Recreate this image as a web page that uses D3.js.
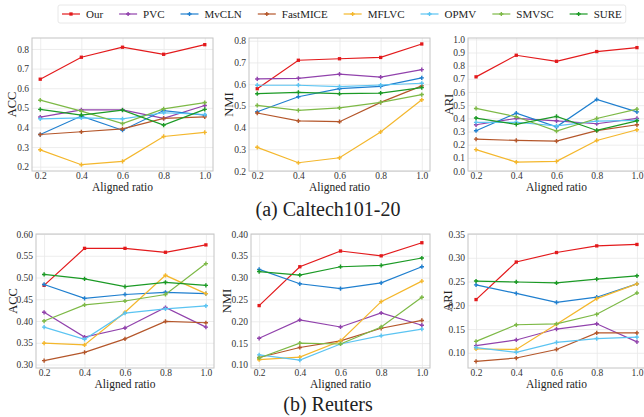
<!DOCTYPE html>
<html>
<head>
<meta charset="utf-8">
<script src="https://cdn.jsdelivr.net/npm/d3@7"></script>
<style>
  body { margin: 0; background: #fff; }
  .grid line { stroke: #e8e8e8; stroke-width: 0.8; }
  .grid .domain { display: none; }
  .ax .domain { display: none; }
</style>
</head>
<body>
<div id="chart"></div>
<script>
var serif = "'Liberation Serif', 'Times New Roman', Times, 'DejaVu Serif', serif";

// methods and their colours
var methods = ["Our", "PVC", "MvCLN", "FastMICE", "MFLVC", "OPMV", "SMVSC", "SURE"];
var colors = ["#e31a1c", "#9142ac", "#1f7fcf", "#b4562a", "#f4b72c", "#5bc4f2", "#7db946", "#1b9a25"];

var ratios = [0.2, 0.4, 0.6, 0.8, 1.0];
var xTicks = [0.2, 0.4, 0.6, 0.8, 1.0];

// tick labels per panel
var calAccTicks = [0.2, 0.3, 0.4, 0.5, 0.6, 0.7, 0.8];
var calNmiTicks = [0.2, 0.3, 0.4, 0.5, 0.6, 0.7, 0.8];
var calAriTicks = [0.0, 0.1, 0.2, 0.3, 0.4, 0.5, 0.6, 0.7, 0.8, 0.9, 1.0];
var reuAccTicks = [0.30, 0.35, 0.40, 0.45, 0.50, 0.55, 0.60];
var reuNmiTicks = [0.10, 0.15, 0.20, 0.25, 0.30, 0.35, 0.40];
var reuAriTicks = [0.10, 0.15, 0.20, 0.25, 0.30, 0.35];

// series values, one row per method (same order as methods)
var calACC = [
  [0.646, 0.758, 0.809, 0.773, 0.822],
  [0.453, 0.490, 0.490, 0.446, 0.512],
  [0.364, 0.458, 0.386, 0.486, 0.463],
  [0.364, 0.378, 0.393, 0.446, 0.454],
  [0.286, 0.210, 0.227, 0.354, 0.375],
  [0.444, 0.449, 0.444, 0.475, 0.466],
  [0.539, 0.483, 0.420, 0.495, 0.527],
  [0.492, 0.463, 0.488, 0.412, 0.492]
];
var calNMI = [
  [0.579, 0.710, 0.717, 0.723, 0.785],
  [0.624, 0.627, 0.646, 0.632, 0.667],
  [0.473, 0.542, 0.579, 0.590, 0.629],
  [0.467, 0.431, 0.427, 0.516, 0.592],
  [0.309, 0.238, 0.261, 0.380, 0.528],
  [0.595, 0.595, 0.589, 0.596, 0.604],
  [0.502, 0.479, 0.491, 0.516, 0.552],
  [0.556, 0.562, 0.556, 0.559, 0.584]
];
var calARI = [
  [0.715, 0.879, 0.833, 0.907, 0.937],
  [0.351, 0.399, 0.381, 0.359, 0.399],
  [0.306, 0.439, 0.336, 0.543, 0.449],
  [0.242, 0.232, 0.227, 0.306, 0.351],
  [0.162, 0.068, 0.073, 0.232, 0.313],
  [0.369, 0.370, 0.343, 0.378, 0.385],
  [0.475, 0.412, 0.303, 0.399, 0.470],
  [0.402, 0.354, 0.414, 0.308, 0.381]
];
var reuACC = [
  [0.482, 0.567, 0.567, 0.558, 0.575],
  [0.420, 0.363, 0.384, 0.431, 0.386],
  [0.484, 0.452, 0.461, 0.466, 0.463],
  [0.309, 0.328, 0.359, 0.399, 0.396],
  [0.349, 0.345, 0.420, 0.505, 0.463],
  [0.386, 0.358, 0.418, 0.428, 0.435],
  [0.400, 0.437, 0.446, 0.461, 0.532],
  [0.507, 0.497, 0.479, 0.489, 0.482]
];
var reuNMI = [
  [0.236, 0.325, 0.361, 0.350, 0.380],
  [0.161, 0.203, 0.187, 0.219, 0.191],
  [0.319, 0.286, 0.275, 0.288, 0.325],
  [0.117, 0.140, 0.155, 0.184, 0.202],
  [0.112, 0.118, 0.155, 0.245, 0.292],
  [0.123, 0.111, 0.148, 0.167, 0.182],
  [0.116, 0.150, 0.148, 0.187, 0.255],
  [0.314, 0.306, 0.325, 0.328, 0.345]
];
var reuARI = [
  [0.212, 0.291, 0.311, 0.325, 0.328],
  [0.115, 0.127, 0.150, 0.161, 0.123],
  [0.243, 0.225, 0.206, 0.217, 0.245],
  [0.082, 0.089, 0.107, 0.142, 0.142],
  [0.108, 0.107, 0.160, 0.214, 0.245],
  [0.111, 0.101, 0.122, 0.130, 0.133],
  [0.124, 0.159, 0.161, 0.181, 0.226],
  [0.251, 0.249, 0.247, 0.255, 0.262]
];

// panel layout: box = [left, top, right, bottom]
var panels = [
  {data: calACC, label: "ACC", ticks: calAccTicks, fmt: ".1f", box: [32, 38, 213, 171], dom: [0.178, 0.856], lx: 12},
  {data: calNMI, label: "NMI", ticks: calNmiTicks, fmt: ".1f", box: [249, 38, 430, 171], dom: [0.2, 0.8125], lx: 229},
  {data: calARI, label: "ARI", ticks: calAriTicks, fmt: ".1f", box: [468, 38, 645, 171], dom: [0.0, 1.01], lx: 449},
  {data: reuACC, label: "ACC", ticks: reuAccTicks, fmt: ".2f", box: [36, 234, 214, 368], dom: [0.292, 0.60], lx: 13},
  {data: reuNMI, label: "NMI", ticks: reuNmiTicks, fmt: ".2f", box: [251, 234, 430, 368], dom: [0.093, 0.40], lx: 227},
  {data: reuARI, label: "ARI", ticks: reuAriTicks, fmt: ".2f", box: [468, 234, 645, 368], dom: [0.068, 0.35], lx: 448}
];

var svg = d3.select("#chart")
  .append("svg")
  .attr("width", 644)
  .attr("height", 417)
  .attr("font-family", serif);

panels.forEach(function(p) {
  var left = p.box[0], top = p.box[1], right = p.box[2], bottom = p.box[3];

  var x = d3.scaleLinear().domain([0.16, 1.04]).range([left, right]);
  var y = d3.scaleLinear().domain(p.dom).range([bottom, top]);

  var g = svg.append("g");

  // grid lines
  g.append("g").attr("class", "grid")
    .attr("transform", "translate(0," + bottom + ")")
    .call(d3.axisBottom(x).tickValues(xTicks).tickSize(-(bottom - top)).tickFormat(""));
  g.append("g").attr("class", "grid")
    .attr("transform", "translate(" + left + ",0)")
    .call(d3.axisLeft(y).tickValues(p.ticks).tickSize(-(right - left)).tickFormat(""));

  // frame
  g.append("rect")
    .attr("x", left).attr("y", top)
    .attr("width", right - left).attr("height", bottom - top)
    .attr("fill", "none").attr("stroke", "#c4c4c4").attr("stroke-width", 1);

  // tick labels
  g.append("g").attr("class", "ax")
    .attr("transform", "translate(0," + bottom + ")")
    .call(d3.axisBottom(x).tickValues(xTicks).tickSize(0).tickPadding(1).tickFormat(d3.format(".1f")))
    .attr("font-family", serif).attr("font-size", 9.5)
    .selectAll("text").attr("fill", "#333");
  g.append("g").attr("class", "ax")
    .attr("transform", "translate(" + left + ",0)")
    .call(d3.axisLeft(y).tickValues(p.ticks).tickSize(0).tickPadding(3).tickFormat(d3.format(p.fmt)))
    .attr("font-family", serif).attr("font-size", 9.5)
    .selectAll("text").attr("fill", "#333");

  // axis titles
  g.append("text")
    .attr("x", (left + right) / 2)
    .attr("y", bottom + 20)
    .attr("text-anchor", "middle")
    .attr("font-size", 11.5)
    .attr("fill", "#222")
    .text("Aligned ratio");

  g.append("text")
    .attr("transform", "translate(" + p.lx + "," + ((top + bottom) / 2) + ")rotate(-90)")
    .attr("dy", "0.35em")
    .attr("text-anchor", "middle")
    .attr("font-size", 12.5)
    .attr("fill", "#222")
    .text(p.label);

  // series
  var line = d3.line()
    .x(function(d, i) { return x(ratios[i]); })
    .y(function(d) { return y(d); });

  p.data.forEach(function(vals, k) {
    g.append("path")
      .datum(vals)
      .attr("d", line)
      .attr("fill", "none")
      .attr("stroke", colors[k])
      .attr("stroke-width", 1.2);

    var sym = d3.symbol().type(k === 0 ? d3.symbolSquare : d3.symbolCross).size(k === 0 ? 11 : 10);
    g.selectAll(null)
      .data(vals)
      .enter()
      .append("path")
      .attr("d", sym)
      .attr("transform", function(d, i) { return "translate(" + x(ratios[i]) + "," + y(d) + ")"; })
      .attr("fill", colors[k]);
  });
});

// captions
svg.append("text")
  .attr("x", 328).attr("y", 216)
  .attr("text-anchor", "middle").attr("font-size", 20).attr("fill", "#222")
  .text("(a) Caltech101-20");
svg.append("text")
  .attr("x", 328).attr("y", 411)
  .attr("text-anchor", "middle").attr("font-size", 20).attr("fill", "#222")
  .text("(b) Reuters");

// legend
var leg = svg.append("g");
var box = leg.append("rect")
  .attr("y", 5).attr("height", 18).attr("rx", 2)
  .attr("fill", "#fff").attr("stroke", "#e2e2e2").attr("stroke-width", 0.8);

var lx = 62;
methods.forEach(function(m, k) {
  leg.append("line")
    .attr("x1", lx).attr("x2", lx + 18)
    .attr("y1", 14).attr("y2", 14)
    .attr("stroke", colors[k]).attr("stroke-width", 1.2);
  leg.append("path")
    .attr("d", d3.symbol().type(k === 0 ? d3.symbolSquare : d3.symbolCross).size(k === 0 ? 11 : 10))
    .attr("transform", "translate(" + (lx + 9) + ",14)")
    .attr("fill", colors[k]);
  var t = leg.append("text")
    .attr("x", lx + 24).attr("y", 17.7)
    .attr("font-size", 11)
    .attr("fill", "#222")
    .text(m);
  lx += 24 + t.node().getComputedTextLength() + 16;
});
box.attr("x", 58).attr("width", lx - 16 + 4 - 58);
</script>
</body>
</html>
